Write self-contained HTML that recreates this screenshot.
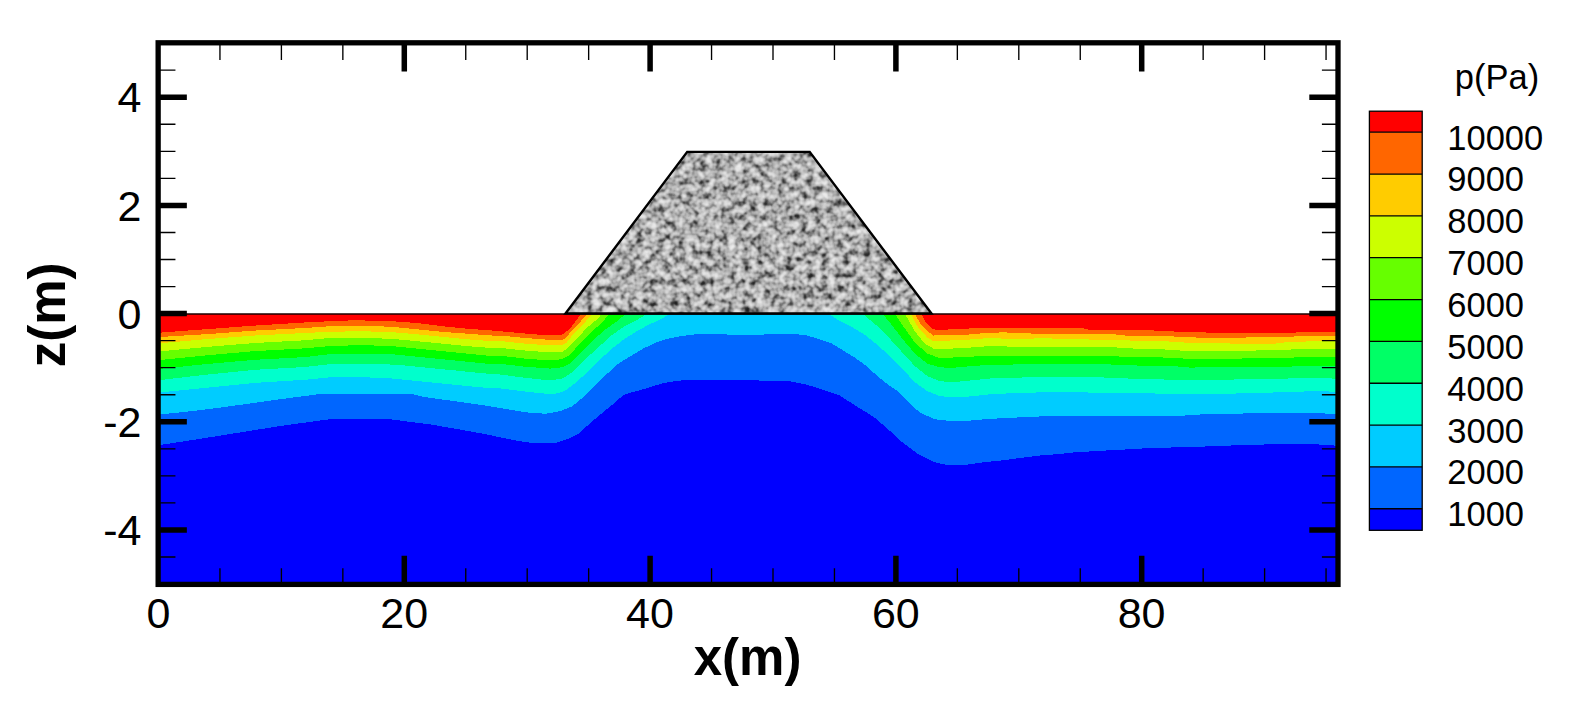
<!DOCTYPE html>
<html><head><meta charset="utf-8"><title>p(Pa) contour</title>
<style>
html,body{margin:0;padding:0;background:#fff;}
body{width:1573px;height:710px;overflow:hidden;}
svg{display:block;}
text{font-family:"Liberation Sans",sans-serif;fill:#000;}
.ax text{font-size:43px;}
.lg text{font-size:34.5px;}
.tt{font-size:51px;font-weight:bold;}
</style></head><body>
<svg width="1573" height="710" viewBox="0 0 1573 710">
<defs>
<filter id="stone" x="0" y="0" width="100%" height="100%" color-interpolation-filters="sRGB">
<feTurbulence type="fractalNoise" baseFrequency="0.14" numOctaves="2" seed="11" result="n"/>
<feColorMatrix in="n" type="matrix" values="1 0 0 0 0  1 0 0 0 0  1 0 0 0 0  0 0 0 0 1" result="g"/>
<feComponentTransfer in="g" result="t">
<feFuncR type="table" tableValues="0.1 0.12 0.2 0.38 0.55 0.69 0.78 0.85 0.9 0.93 0.93"/>
<feFuncG type="table" tableValues="0.1 0.12 0.2 0.38 0.55 0.69 0.78 0.85 0.9 0.93 0.93"/>
<feFuncB type="table" tableValues="0.1 0.12 0.2 0.38 0.55 0.69 0.78 0.85 0.9 0.93 0.93"/>
</feComponentTransfer>
<feComposite in="t" in2="SourceGraphic" operator="in"/>
</filter>
</defs>
<rect width="1573" height="710" fill="#fff"/>
<g shape-rendering="crispEdges">
<rect x="158.15" y="313.60" width="1179.85" height="270.80" fill="#0000ff"/>
<path d="M158.2 313.6 L158.0 445.2 L161.0 444.8 L186.0 441.0 L217.3 436.1 L248.5 431.1 L279.6 426.1 L310.8 421.8 L332.0 418.9 L351.0 418.7 L386.0 418.7 L404.8 421.2 L429.7 424.3 L454.6 428.6 L485.8 434.2 L500.0 437.4 L518.7 441.0 L531.2 442.9 L543.6 443.3 L556.0 442.9 L568.5 438.6 L578.5 433.6 L587.0 426.0 L599.7 415.0 L612.0 405.0 L619.0 398.6 L625.0 394.4 L631.0 392.4 L637.0 391.2 L649.5 387.3 L662.0 383.5 L674.5 381.2 L687.0 379.8 L700.0 379.6 L740.0 380.0 L770.0 380.8 L790.0 381.2 L794.6 382.3 L807.0 384.8 L819.5 388.5 L832.0 392.9 L840.0 395.6 L856.2 406.2 L873.6 416.8 L887.4 428.6 L902.3 442.3 L917.3 453.6 L934.7 462.3 L946.0 464.8 L964.6 465.0 L983.3 462.3 L1002.0 460.4 L1020.7 457.9 L1041.0 455.4 L1060.0 454.0 L1072.0 452.6 L1097.0 451.0 L1123.0 449.6 L1153.0 447.9 L1190.0 447.1 L1218.0 446.0 L1250.0 444.8 L1306.0 443.6 L1320.0 444.6 L1338.0 445.8 L1338.0 313.6Z" fill="#0066ff"/>
<path d="M158.2 313.6 L158.0 414.8 L161.0 414.3 L186.0 411.8 L217.3 408.0 L248.5 403.7 L279.6 399.3 L317.0 394.4 L335.0 393.7 L351.0 393.7 L411.0 393.8 L423.5 396.9 L454.6 401.2 L485.8 405.6 L500.0 408.0 L518.7 411.2 L531.2 413.0 L546.0 413.7 L559.8 411.2 L572.3 406.2 L582.2 398.0 L593.5 387.3 L606.0 374.8 L618.4 363.6 L630.8 356.1 L643.3 348.6 L655.8 342.4 L668.2 338.7 L680.7 336.2 L696.0 334.3 L714.0 334.0 L740.0 335.0 L760.0 334.8 L775.0 333.8 L794.6 333.9 L807.0 335.5 L819.5 339.3 L832.0 343.6 L840.0 348.6 L852.5 356.1 L864.9 364.8 L877.4 376.0 L889.8 386.0 L896.0 390.0 L902.3 396.0 L907.3 401.2 L919.7 412.4 L934.7 419.3 L952.0 421.2 L970.8 420.5 L989.5 418.9 L1006.0 418.0 L1036.0 416.6 L1060.0 415.8 L1184.0 415.6 L1200.0 414.5 L1235.0 414.1 L1250.0 413.0 L1322.0 413.0 L1330.0 414.3 L1338.0 414.3 L1338.0 313.6Z" fill="#00ccff"/>
<path d="M158.2 313.6 L158.0 392.8 L162.5 392.2 L204.8 387.9 L254.7 382.9 L304.5 379.8 L330.0 377.3 L361.0 377.3 L386.0 377.9 L404.8 379.8 L429.7 382.3 L454.6 384.8 L479.5 387.3 L500.0 388.4 L526.0 391.6 L543.6 393.5 L556.0 393.5 L564.8 391.0 L574.8 383.5 L587.2 372.3 L599.7 359.8 L612.1 348.6 L624.6 338.7 L637.0 331.2 L649.5 324.3 L662.0 318.7 L670.0 313.6 L670.0 313.6Z M828.0 313.6 L828.0 313.6 L840.0 321.2 L852.5 327.4 L864.9 334.9 L877.4 344.9 L889.8 356.1 L902.3 368.6 L914.8 382.3 L927.2 391.0 L939.7 396.0 L952.0 397.5 L964.6 397.0 L989.5 394.4 L1012.0 393.2 L1040.0 392.4 L1130.0 392.6 L1160.0 393.7 L1231.0 393.7 L1260.0 392.7 L1293.0 392.2 L1310.0 391.1 L1322.0 391.1 L1338.0 392.0 L1338.0 313.6Z" fill="#00ffcc"/>
<path d="M158.2 313.6 L158.0 380.2 L162.5 379.8 L204.8 374.8 L254.7 369.8 L304.5 367.0 L330.0 364.2 L361.0 363.6 L380.0 363.8 L404.8 365.5 L429.7 368.0 L454.6 370.4 L479.5 373.0 L500.0 374.5 L526.0 377.9 L549.8 380.4 L562.3 378.5 L572.3 372.3 L584.7 359.8 L599.7 346.1 L612.1 334.9 L624.6 326.2 L637.0 320.0 L647.5 313.6 L647.5 313.6Z M862.4 313.6 L862.4 313.6 L877.4 326.2 L889.8 338.7 L902.3 352.4 L914.8 366.0 L927.2 376.0 L939.7 381.0 L952.1 382.3 L964.6 381.0 L989.5 378.5 L1022.0 377.5 L1060.0 376.7 L1092.0 376.9 L1117.0 378.2 L1160.0 379.4 L1191.0 380.2 L1222.0 379.6 L1272.0 379.2 L1300.0 378.0 L1325.0 378.0 L1338.0 379.0 L1338.0 313.6Z" fill="#00ff66"/>
<path d="M158.2 313.6 L158.0 369.0 L162.5 368.6 L204.8 364.2 L254.7 359.8 L304.5 357.1 L330.0 354.2 L361.0 353.6 L392.0 354.2 L417.0 356.7 L442.0 359.2 L467.0 361.7 L492.0 364.2 L500.0 363.8 L525.0 366.7 L549.8 368.6 L562.3 367.3 L569.8 363.6 L579.8 353.6 L592.2 341.2 L604.7 329.9 L617.1 321.2 L626.0 313.6 L626.0 313.6Z M882.4 313.6 L882.4 313.6 L889.8 322.5 L902.3 338.7 L914.8 353.6 L927.2 363.6 L939.7 367.3 L952.1 367.9 L964.6 366.7 L989.5 364.8 L1022.0 364.4 L1060.0 363.6 L1093.0 363.8 L1124.0 365.0 L1150.0 366.0 L1177.0 366.4 L1190.0 367.6 L1231.0 366.9 L1243.0 367.4 L1275.0 366.7 L1338.0 366.0 L1338.0 313.6Z" fill="#00ff00"/>
<path d="M158.2 313.6 L158.0 360.2 L162.5 359.8 L204.8 355.5 L254.7 351.1 L304.5 348.4 L330.0 346.1 L361.0 345.1 L392.0 346.1 L417.0 348.6 L442.0 351.1 L467.0 353.6 L492.0 356.1 L500.0 355.7 L525.0 358.6 L549.8 360.5 L562.3 359.2 L569.8 354.9 L579.8 343.6 L592.2 331.2 L602.2 322.5 L609.5 313.6 L609.5 313.6Z M894.8 313.6 L894.8 313.6 L902.3 325.0 L914.8 342.4 L927.2 353.6 L939.7 358.0 L964.6 357.1 L989.5 355.5 L1036.0 355.5 L1100.0 355.7 L1128.0 356.9 L1168.0 357.6 L1185.0 358.6 L1237.0 358.6 L1268.0 358.0 L1338.0 356.7 L1338.0 313.6Z" fill="#66ff00"/>
<path d="M158.2 313.6 L158.0 351.5 L162.5 351.1 L204.8 347.1 L254.7 343.0 L304.5 340.3 L330.0 338.0 L361.0 337.7 L392.0 338.9 L417.0 341.2 L442.0 343.6 L467.0 346.1 L492.0 348.0 L500.0 347.9 L525.0 350.5 L549.8 352.4 L562.3 351.7 L567.3 348.6 L574.8 341.2 L587.2 327.4 L597.2 319.3 L602.0 313.6 L602.0 313.6Z M904.8 313.6 L904.8 313.6 L914.8 331.2 L924.7 343.6 L934.7 349.3 L964.6 348.0 L989.5 346.1 L1020.0 346.8 L1062.0 346.6 L1110.0 347.0 L1130.0 348.4 L1165.0 349.5 L1180.0 350.5 L1237.0 350.9 L1285.0 349.9 L1302.0 348.8 L1338.0 348.6 L1338.0 313.6Z" fill="#ccff00"/>
<path d="M158.2 313.6 L158.0 343.5 L162.5 343.0 L204.8 339.3 L254.7 335.5 L304.5 333.0 L330.0 331.8 L361.0 331.2 L392.0 332.2 L417.0 334.3 L442.0 336.8 L467.0 339.3 L492.0 341.2 L500.0 341.0 L525.0 343.6 L549.8 345.5 L562.3 344.9 L566.5 342.6 L574.8 332.4 L584.7 322.5 L592.2 313.6 L592.2 313.6Z M911.0 313.6 L911.0 313.6 L917.3 326.2 L927.2 337.4 L933.5 341.2 L964.6 339.9 L989.5 338.0 L1012.0 339.0 L1043.0 338.3 L1075.0 339.0 L1100.0 339.9 L1130.0 340.5 L1166.0 341.3 L1191.0 343.0 L1237.0 343.6 L1275.0 343.6 L1287.0 342.1 L1338.0 340.5 L1338.0 313.6Z" fill="#ffcc00"/>
<path d="M158.2 313.6 L158.0 337.2 L162.5 336.8 L204.8 334.3 L254.7 330.6 L304.5 328.0 L330.0 326.2 L361.0 325.6 L392.0 326.8 L417.0 329.3 L442.0 331.8 L467.0 333.7 L492.0 335.5 L500.0 335.5 L525.0 338.0 L549.8 339.9 L562.3 339.9 L565.5 338.2 L572.3 330.0 L579.8 322.5 L587.2 313.6 L587.2 313.6Z M914.8 313.6 L914.8 313.6 L921.0 325.0 L927.2 331.2 L933.5 335.5 L964.6 334.9 L989.5 332.7 L1004.5 332.4 L1036.0 333.7 L1110.0 333.9 L1125.0 335.5 L1165.0 335.8 L1180.0 337.0 L1196.0 337.5 L1237.0 337.7 L1281.0 336.8 L1338.0 335.5 L1338.0 313.6Z" fill="#ff6600"/>
<path d="M158.2 313.6 L158.0 333.0 L162.5 332.4 L204.8 329.3 L254.7 325.6 L304.5 322.5 L330.0 321.2 L351.0 320.4 L358.7 319.5 L366.0 320.6 L392.0 321.2 L417.0 323.0 L442.0 326.2 L467.0 328.7 L492.0 330.5 L500.0 331.2 L525.0 333.5 L549.8 335.5 L560.0 335.2 L563.5 333.8 L569.8 328.7 L574.8 322.5 L581.0 313.6 L581.0 313.6Z M921.0 313.6 L921.0 313.6 L926.0 322.5 L932.0 328.7 L936.0 329.8 L940.0 329.9 L964.6 328.7 L989.5 327.7 L1036.0 328.2 L1082.0 328.0 L1090.0 330.0 L1150.0 330.3 L1187.0 332.2 L1237.0 333.0 L1275.0 333.0 L1300.0 332.4 L1338.0 331.8 L1338.0 313.6Z" fill="#ff0000"/>
</g>
<path d="M158.15 314H1338.00" stroke="#1a0000" stroke-width="1.3"/>
<path id="dam" d="M565.5 313.6L687.2 151.9H809.7L931.5 313.6Z" fill="#bbb" filter="url(#stone)"/>
<path d="M565.5 313.5L687.2 151.9H809.7L931.5 313.5Z" fill="none" stroke="#000" stroke-width="2.4" stroke-linejoin="miter"/>
<g stroke="#000" fill="none">
<path d="M219.95 42.80v17.3M219.95 584.40v-16.1" stroke-width="1.35"/>
<path d="M281.40 42.80v17.3M281.40 584.40v-16.1" stroke-width="1.35"/>
<path d="M342.85 42.80v17.3M342.85 584.40v-16.1" stroke-width="1.35"/>
<path d="M404.30 42.80v28.7M404.30 584.40v-28.7" stroke-width="5.5"/>
<path d="M465.75 42.80v17.3M465.75 584.40v-16.1" stroke-width="1.35"/>
<path d="M527.20 42.80v17.3M527.20 584.40v-16.1" stroke-width="1.35"/>
<path d="M588.65 42.80v17.3M588.65 584.40v-16.1" stroke-width="1.35"/>
<path d="M650.10 42.80v28.7M650.10 584.40v-28.7" stroke-width="5.5"/>
<path d="M711.55 42.80v17.3M711.55 584.40v-16.1" stroke-width="1.35"/>
<path d="M773.00 42.80v17.3M773.00 584.40v-16.1" stroke-width="1.35"/>
<path d="M834.45 42.80v17.3M834.45 584.40v-16.1" stroke-width="1.35"/>
<path d="M895.90 42.80v28.7M895.90 584.40v-28.7" stroke-width="5.5"/>
<path d="M957.35 42.80v17.3M957.35 584.40v-16.1" stroke-width="1.35"/>
<path d="M1018.80 42.80v17.3M1018.80 584.40v-16.1" stroke-width="1.35"/>
<path d="M1080.25 42.80v17.3M1080.25 584.40v-16.1" stroke-width="1.35"/>
<path d="M1141.70 42.80v28.7M1141.70 584.40v-28.7" stroke-width="5.5"/>
<path d="M1203.15 42.80v17.3M1203.15 584.40v-16.1" stroke-width="1.35"/>
<path d="M1264.60 42.80v17.3M1264.60 584.40v-16.1" stroke-width="1.35"/>
<path d="M1326.05 42.80v17.3M1326.05 584.40v-16.1" stroke-width="1.35"/>
<path d="M158.15 557.01h17.3M1338.00 557.01h-16.1" stroke-width="1.35"/>
<path d="M158.15 529.96h28.7M1338.00 529.96h-28.7" stroke-width="5.5"/>
<path d="M158.15 502.92h17.3M1338.00 502.92h-16.1" stroke-width="1.35"/>
<path d="M158.15 475.87h17.3M1338.00 475.87h-16.1" stroke-width="1.35"/>
<path d="M158.15 448.83h17.3M1338.00 448.83h-16.1" stroke-width="1.35"/>
<path d="M158.15 421.78h28.7M1338.00 421.78h-28.7" stroke-width="5.5"/>
<path d="M158.15 394.74h17.3M1338.00 394.74h-16.1" stroke-width="1.35"/>
<path d="M158.15 367.69h17.3M1338.00 367.69h-16.1" stroke-width="1.35"/>
<path d="M158.15 340.65h17.3M1338.00 340.65h-16.1" stroke-width="1.35"/>
<path d="M158.15 313.60h28.7M1338.00 313.60h-28.7" stroke-width="5.5"/>
<path d="M158.15 286.56h17.3M1338.00 286.56h-16.1" stroke-width="1.35"/>
<path d="M158.15 259.51h17.3M1338.00 259.51h-16.1" stroke-width="1.35"/>
<path d="M158.15 232.47h17.3M1338.00 232.47h-16.1" stroke-width="1.35"/>
<path d="M158.15 205.42h28.7M1338.00 205.42h-28.7" stroke-width="5.5"/>
<path d="M158.15 178.38h17.3M1338.00 178.38h-16.1" stroke-width="1.35"/>
<path d="M158.15 151.33h17.3M1338.00 151.33h-16.1" stroke-width="1.35"/>
<path d="M158.15 124.29h17.3M1338.00 124.29h-16.1" stroke-width="1.35"/>
<path d="M158.15 97.24h28.7M1338.00 97.24h-28.7" stroke-width="5.5"/>
<path d="M158.15 70.19h17.3M1338.00 70.19h-16.1" stroke-width="1.35"/>
<rect x="158.15" y="42.80" width="1179.85" height="541.60" stroke-width="5.3"/>
</g>
<g class="ax">
<text x="158.5" y="627.6" text-anchor="middle">0</text>
<text x="404.2" y="627.6" text-anchor="middle">20</text>
<text x="650.0" y="627.6" text-anchor="middle">40</text>
<text x="895.8" y="627.6" text-anchor="middle">60</text>
<text x="1141.6" y="627.6" text-anchor="middle">80</text>
<text x="141.5" y="112.4" text-anchor="end">4</text>
<text x="141.5" y="220.6" text-anchor="end">2</text>
<text x="141.5" y="328.8" text-anchor="end">0</text>
<text x="141.5" y="437.0" text-anchor="end">-2</text>
<text x="141.5" y="545.2" text-anchor="end">-4</text>
</g>
<text class="tt" x="747.6" y="674.5" text-anchor="middle">x(m)</text>
<text class="tt" transform="translate(64.5 314.8) rotate(-90)" text-anchor="middle">z(m)</text>
<g class="lg">
<rect x="1369.4" y="111.20" width="52.8" height="21.00" fill="#ff0000"/>
<rect x="1369.4" y="132.20" width="52.8" height="41.84" fill="#ff6600"/>
<rect x="1369.4" y="174.04" width="52.8" height="41.84" fill="#ffcc00"/>
<rect x="1369.4" y="215.88" width="52.8" height="41.84" fill="#ccff00"/>
<rect x="1369.4" y="257.72" width="52.8" height="41.84" fill="#66ff00"/>
<rect x="1369.4" y="299.56" width="52.8" height="41.84" fill="#00ff00"/>
<rect x="1369.4" y="341.40" width="52.8" height="41.84" fill="#00ff66"/>
<rect x="1369.4" y="383.24" width="52.8" height="41.84" fill="#00ffcc"/>
<rect x="1369.4" y="425.08" width="52.8" height="41.84" fill="#00ccff"/>
<rect x="1369.4" y="466.92" width="52.8" height="41.84" fill="#0066ff"/>
<rect x="1369.4" y="508.76" width="52.8" height="21.54" fill="#0000ff"/>
<path d="M1369.4 132.20H1422.2" stroke="#000" stroke-width="1.3"/>
<path d="M1369.4 174.04H1422.2" stroke="#000" stroke-width="1.3"/>
<path d="M1369.4 215.88H1422.2" stroke="#000" stroke-width="1.3"/>
<path d="M1369.4 257.72H1422.2" stroke="#000" stroke-width="1.3"/>
<path d="M1369.4 299.56H1422.2" stroke="#000" stroke-width="1.3"/>
<path d="M1369.4 341.40H1422.2" stroke="#000" stroke-width="1.3"/>
<path d="M1369.4 383.24H1422.2" stroke="#000" stroke-width="1.3"/>
<path d="M1369.4 425.08H1422.2" stroke="#000" stroke-width="1.3"/>
<path d="M1369.4 466.92H1422.2" stroke="#000" stroke-width="1.3"/>
<path d="M1369.4 508.76H1422.2" stroke="#000" stroke-width="1.3"/>
<rect x="1369.4" y="111.20" width="52.8" height="419.10" fill="none" stroke="#000" stroke-width="1.3"/>
<text x="1447.3" y="149.6">10000</text>
<text x="1447.3" y="191.4">9000</text>
<text x="1447.3" y="233.3">8000</text>
<text x="1447.3" y="275.1">7000</text>
<text x="1447.3" y="317.0">6000</text>
<text x="1447.3" y="358.8">5000</text>
<text x="1447.3" y="400.6">4000</text>
<text x="1447.3" y="442.5">3000</text>
<text x="1447.3" y="484.3">2000</text>
<text x="1447.3" y="526.2">1000</text>
<text x="1454.8" y="88.5">p(Pa)</text>
</g>
</svg>
</body></html>
